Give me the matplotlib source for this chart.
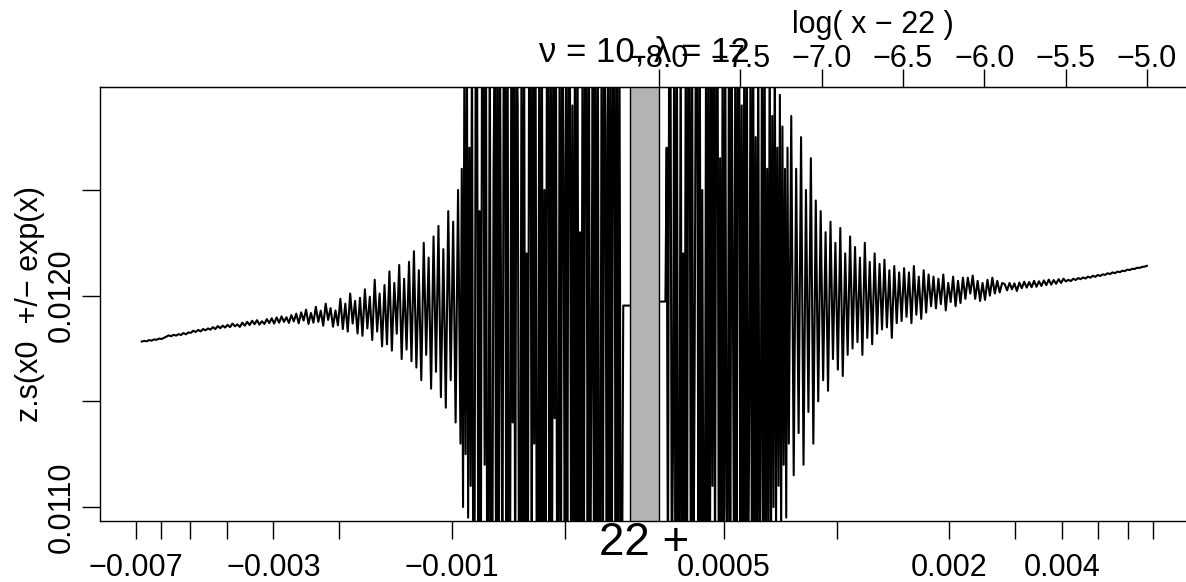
import numpy as np
import matplotlib.pyplot as plt

plt.rcParams['font.family'] = ['Liberation Sans', 'DejaVu Sans']

# centre point and parameters shown in the title
x0 = 22
nu, lam = 10, 12

# offsets are sampled as exp(t), t from -8 to -5 on each side of x0;
# the noisy part near x0 is sampled more finely
t_inner, t_outer = -8.0, -5.0
t_split_left = (-6.945, -6.96)
t_split_right = (-7.21, -7.202)
gap = 0.181  # width of the grey gap between the two log scales

# z.s values (units of 1e-3)
# left side, x0 - exp(t), t = -5 ... -6.945
dens_left_outer = [
    11.783, 11.786, 11.784, 11.790, 11.787, 11.793, 11.791, 11.797, 11.795, 11.800,
    11.806, 11.812, 11.808, 11.815, 11.811, 11.818, 11.814, 11.823, 11.817, 11.826,
    11.824, 11.834, 11.828, 11.838, 11.831, 11.842, 11.836, 11.845, 11.839, 11.851,
    11.842, 11.856, 11.846, 11.858, 11.849, 11.862, 11.851, 11.868, 11.855, 11.864,
    11.852, 11.872, 11.858, 11.876, 11.861, 11.881, 11.865, 11.884, 11.863, 11.879,
    11.866, 11.889, 11.870, 11.893, 11.868, 11.897, 11.872, 11.902, 11.876, 11.898,
    11.871, 11.908, 11.878, 11.915, 11.869, 11.921, 11.882, 11.934, 11.866, 11.918,
    11.872, 11.947, 11.876, 11.929, 11.858, 11.962, 11.885, 11.941, 11.853, 11.930,
    11.860, 11.985, 11.842, 11.962, 11.830, 12.010, 11.868, 11.975, 11.821, 11.990,
    11.810, 12.030, 11.845, 11.995, 11.790, 12.075, 11.830, 12.010, 11.760, 12.050,
    11.770, 12.115, 11.740, 12.060, 11.820, 12.145, 11.700, 12.080, 11.745, 12.160,
    11.690, 12.210, 11.660, 12.120, 11.600, 12.250, 11.720, 12.180, 11.560, 12.280,
    11.640, 12.330, 11.520, 12.220, 11.470, 12.400, 11.600, 12.350, 11.400, 12.500,
]
# left side, t = -6.96 ... -8
dens_left_inner = [
    11.30, 12.60, 11.00, 12.99, 11.25, 13.30, 10.95, 12.70, 11.10, 13.30,
    10.60, 10.55, 13.30, 13.40, 10.50, 12.40, 10.60, 13.40, 13.30, 11.20, 13.30, 10.50,
    10.50, 13.40, 10.60, 10.50, 12.60, 13.30, 10.50, 13.40, 10.60, 13.30, 11.80, 10.50,
    13.30, 13.40, 10.60, 13.40, 10.50, 10.60, 13.30, 11.40, 13.40, 10.50, 13.30, 12.90,
    10.60, 10.50, 13.30, 10.60, 13.40, 10.50, 12.20, 10.60, 13.30, 13.40, 10.50, 13.40,
    11.30, 13.30, 10.50, 10.60, 13.40, 10.60, 13.30, 10.50, 12.50, 10.60, 13.30, 13.40,
    10.50, 13.30, 10.60, 13.40, 11.42, 13.40, 10.50, 10.60, 13.30, 10.50, 13.40, 12.60,
    10.60, 13.30, 10.50, 13.40, 13.30, 10.60, 12.90, 10.50, 13.30, 10.60, 13.40, 10.50,
    12.30, 10.60, 13.30, 10.50, 13.40, 13.30, 10.60, 13.40, 10.50, 11.60, 13.30, 10.60,
    13.40, 10.50, 13.30, 10.60, 10.50, 13.40, 10.60, 13.30, 12.80, 10.50, 13.40, 10.60,
    13.30, 10.50, 13.40, 13.30, 10.60, 13.40, 10.50, 13.30, 10.60, 10.50,
    11.953, 11.953, 11.953, 11.953, 11.953, 11.953,
]

# right side, x0 + exp(t), t = -8 ... -7.21
dens_right_inner = [
    11.972, 11.972, 11.972, 11.972, 11.972, 11.972,
    12.70, 10.50, 13.40, 13.30, 10.60, 11.30, 13.40, 10.50, 13.30, 10.60, 10.50, 13.40,
    10.50, 12.20, 10.60, 13.30, 10.50, 13.40, 13.30, 10.60, 13.30, 10.50, 11.70, 13.40,
    13.30, 10.50, 13.40, 10.60, 12.50, 10.50, 10.60, 13.30, 10.60, 13.40, 10.50, 13.30,
    11.10, 13.40, 10.60, 13.30, 13.40, 10.50, 12.65, 10.60, 13.30, 10.50, 13.40, 11.00,
    10.60, 13.40, 10.50, 13.30, 12.10, 10.60, 13.40, 10.50, 13.30, 13.40, 10.60, 12.90,
    10.50, 13.30, 10.60, 13.40, 10.50, 11.50, 13.30, 10.60, 13.40, 10.50, 12.75, 10.60,
    13.30, 10.50, 11.20, 13.40, 10.60, 13.30, 10.50, 12.60, 10.80, 13.30, 10.70, 12.85,
    11.00, 13.30, 10.90, 12.70, 11.10, 12.95, 10.85, 12.80, 11.20, 12.60, 10.95, 12.70,
]
# right side, t = -7.202 ... -5
dens_right_outer = [
    11.300, 12.850, 11.150, 12.600, 11.350, 12.750, 11.200, 12.500, 11.450, 12.650,
    11.300, 12.450, 11.500,
    12.400, 11.600, 12.300, 11.550, 12.350, 11.700, 12.250, 11.650, 12.320, 11.620,
    12.200, 11.720, 12.280,
    11.750, 12.230, 11.780, 12.180, 11.720, 12.250, 11.800, 12.160, 11.770, 12.200,
    11.820, 12.150,
    11.840, 12.170, 11.850, 12.120, 11.800, 12.140, 11.870, 12.110,
    11.880, 12.130, 11.900, 12.110, 11.870, 12.140, 11.910, 12.090, 11.890, 12.120,
    11.920, 12.100,
    11.950, 12.090, 11.940, 12.080, 11.960, 12.100, 11.930, 12.060, 11.970, 12.090,
    11.950, 12.070, 11.965, 12.085, 11.985,
    12.085, 12.010, 12.095, 11.985, 12.070, 11.975, 12.060, 11.980, 12.075, 12.000,
    12.085, 12.010, 12.070, 12.015, 12.060,
    12.055, 12.025, 12.060, 12.030, 12.058, 12.022, 12.062, 12.035, 12.066, 12.038,
    12.064, 12.040, 12.070, 12.042, 12.068, 12.046, 12.072, 12.050, 12.076, 12.052,
    12.074, 12.056, 12.078, 12.060, 12.080,
    12.067, 12.075, 12.069, 12.080, 12.074, 12.083, 12.078, 12.086, 12.081, 12.090,
    12.085, 12.094, 12.089, 12.098, 12.093, 12.101, 12.098, 12.106, 12.102, 12.110,
    12.106, 12.114, 12.111, 12.118, 12.116, 12.123, 12.121, 12.127, 12.126, 12.132,
    12.131, 12.136, 12.137, 12.141,
]

# axis ticks
bottom_offsets = [0.0005, 0.001, 0.002, 0.003, 0.004, 0.005, 0.006, 0.007]
bottom_labels_left = {0.007: '\u22120.007', 0.003: '\u22120.003', 0.001: '\u22120.001'}
bottom_labels_right = {0.0005: '0.0005', 0.002: '0.002', 0.004: '0.004'}
top_ticks = [-8.0, -7.5, -7.0, -6.5, -6.0, -5.5, -5.0]
y_ticks = [0.0110, 0.0115, 0.0120, 0.0125]
y_labels = ['0.0110', '', '0.0120', '']


def to_u(x):
    # right of x0: log(x - x0); left of x0: mirrored log scale, shifted by the gap
    d = np.asarray(x, dtype=float) - x0
    ad = np.abs(d)
    return np.where(d > 0, np.log(ad), 2 * t_inner - gap - np.log(ad))


t_left = np.concatenate([np.linspace(t_outer, t_split_left[0], len(dens_left_outer)),
                         np.linspace(t_split_left[1], t_inner, len(dens_left_inner))])
t_right = np.concatenate([np.linspace(t_inner, t_split_right[0], len(dens_right_inner)),
                          np.linspace(t_split_right[1], t_outer, len(dens_right_outer))])
x_left = x0 - np.exp(t_left)
x_right = x0 + np.exp(t_right)
y_left = np.array(dens_left_outer + dens_left_inner) * 1e-3
y_right = np.array(dens_right_inner + dens_right_outer) * 1e-3

W, H = 1186, 582
fig = plt.figure(figsize=(W / 100, H / 100), dpi=100)
ax = fig.add_axes([100 / W, 61 / H, 1088 / W, 434 / H])

ax.plot(to_u(x_left), y_left, color='black', lw=1.5)
ax.plot(to_u(x_right), y_right, color='black', lw=1.5)
ax.axvspan(t_inner - gap, t_inner, facecolor='#b3b3b3', edgecolor='black', lw=1.0, zorder=3)

ax.set_xlim(-11.438, -4.747)
ax.set_ylim(0.010934, 0.012987)

# bottom axis: signed offsets from x0
bx, bl = [], []
for off in bottom_offsets:
    bx.append(float(to_u(x0 - off)))
    bl.append(bottom_labels_left.get(off, ''))
    bx.append(float(to_u(x0 + off)))
    bl.append(bottom_labels_right.get(off, ''))
ax.set_xticks(bx)
ax.set_xticklabels(bl)

ax.set_yticks(y_ticks)
ax.set_yticklabels(y_labels, rotation=90, va='center')

ax.tick_params(axis='both', direction='out', length=13, width=1.0, labelsize=22)
ax.tick_params(axis='x', pad=10)
ax.tick_params(axis='y', pad=4)
for s in ax.spines.values():
    s.set_linewidth(1.0)

# top axis: log(x - x0)
top = ax.secondary_xaxis('top')
top.set_xticks(top_ticks)
top.set_xticklabels([f'{v:.1f}'.replace('-', '\u2212') for v in top_ticks])
top.tick_params(direction='out', length=13, width=1.0, labelsize=22, pad=-4)

ax.set_ylabel('z.s(x0  +/\u2212 exp(x)', fontsize=22, va='center')
ax.yaxis.set_label_coords(-70 / 1088, 0.5)

fig.text(873 / W, 1 - 25 / H, 'log( x \u2212 22 )', fontsize=22, ha='center', va='center')
fig.text(644 / W, 1 - 52 / H, f'\u03bd = {nu}, \u03bb = {lam}', fontsize=25, ha='center', va='center')
fig.text(644 / W, 1 - 543 / H, f'{x0} +', fontsize=33, ha='center', va='center')

fig.savefig('out.png', dpi=100)
